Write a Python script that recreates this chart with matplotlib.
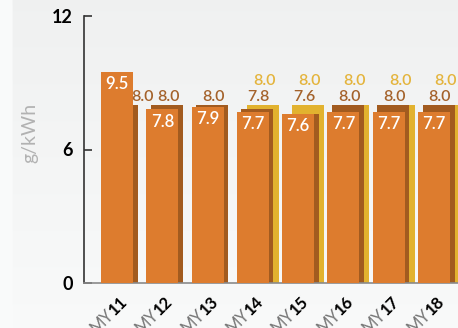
import numpy as np
import matplotlib
matplotlib.use("Agg")
import matplotlib.pyplot as plt

plt.rcParams['font.family'] = ['Lato', 'DejaVu Sans']

# chart data
years = ["11", "12", "13", "14", "15", "16", "17", "18"]
front_vals = [9.5, 7.8, 7.9, 7.7, 7.6, 7.7, 7.7, 7.7]      # orange
middle_vals = [8.0, 8.0, 8.0, 7.8, 7.6, 8.0, 8.0, 8.0]     # brown
back_vals = [None, None, None, 8.0, 8.0, 8.0, 8.0, 8.0]    # yellow

ORANGE = '#dd7c2e'
BROWN = '#a25b1f'
YELLOW = '#e2b22f'
BROWN_TXT = '#a4622b'
YELLOW_TXT = '#e4b43c'

fig = plt.figure(figsize=(4.58, 3.28), dpi=100)

# background: light grey gradient, whiter strip at left
bg = fig.add_axes([0, 0, 1, 1], zorder=-10)
grad = np.linspace(0.94, 0.975, 256)[:, None] * np.ones((256, 256))
grad[:, :7] = 0.98
bg.imshow(np.dstack([grad, grad + 0.004, grad + 0.004]).clip(0, 1), aspect='auto', extent=[0, 1, 0, 1])
bg.axis('off')

ax = fig.add_axes([84 / 458, 45 / 328, 374 / 458, 267 / 328])
ax.patch.set_alpha(0)

x = np.arange(len(years))
w = 0.706
off_mid = 0.1
off_back = 0.22

for i in x:
    if back_vals[i] is not None:
        ax.bar(i + off_back, back_vals[i], w, color=YELLOW, zorder=1)
        ax.annotate(f"{back_vals[i]:.1f}", (i + off_back + 0.03, back_vals[i]), xytext=(0, 12),
                    textcoords='offset points', ha='center', va='bottom',
                    color=YELLOW_TXT, fontsize=11.5, fontweight='semibold')
    ax.bar(i + off_mid, middle_vals[i], w, color=BROWN, zorder=2)
    ax.bar(i, front_vals[i], w, color=ORANGE, zorder=3)
    # brown label sits above the bar, moved aside if the front bar covers it
    if front_vals[i] > middle_vals[i]:
        ax.annotate(f"{middle_vals[i]:.1f}", (i + w / 2, 8.0), xytext=(-1, 0.5),
                    textcoords='offset points', ha='left', va='bottom',
                    color=BROWN_TXT, fontsize=11.5, fontweight='semibold')
    else:
        ax.annotate(f"{middle_vals[i]:.1f}", (i + off_mid + 0.03, 8.0), xytext=(0, 0.5),
                    textcoords='offset points', ha='center', va='bottom',
                    color=BROWN_TXT, fontsize=11.5, fontweight='semibold')
    ax.annotate(f"{front_vals[i]:.1f}", (i, front_vals[i]), xytext=(0, -3),
                textcoords='offset points', ha='center', va='top',
                color='white', fontsize=12, fontweight='semibold', zorder=5)

ax.set_xlim(-0.73, 7.53)
ax.set_ylim(0, 12)
ax.set_yticks([0, 6, 12])
ax.set_yticklabels(["0", "6", "12"], fontsize=13, fontweight='bold')
ax.tick_params(axis='y', direction='in', length=6, width=1.2, color='#333333', pad=8)
ax.set_xticks([])
for s in ['top', 'right']:
    ax.spines[s].set_visible(False)
ax.spines['left'].set_color('#333333')
ax.spines['left'].set_linewidth(1.2)
ax.spines['bottom'].set_color('#8a8a8a')
ax.spines['bottom'].set_linewidth(1.2)

fig.text(30 / 458, 1 - 133 / 328, "g/kWh", rotation=90, ha='center', va='center',
         color='#b2b2b2', fontsize=14)

# two-tone rotated x labels: grey "MY" + bold black year
fig.canvas.draw()
renderer = fig.canvas.get_renderer()
ang = np.deg2rad(45)
fs = 12
yoff = -7.5
for i, yr in zip(x, years):
    ax.annotate(yr, (i + 0.05, 0), xytext=(0, yoff), textcoords='offset points',
                rotation=45, rotation_mode='anchor', ha='right', va='top',
                fontsize=fs, fontweight='bold', color='black', annotation_clip=False)
    tmp = fig.text(0, 0, yr, fontsize=fs, fontweight='bold')
    wpx = tmp.get_window_extent(renderer).width
    tmp.remove()
    wpt = wpx * 72 / fig.dpi
    ax.annotate("MY", (i + 0.05, 0), xytext=(-wpt * np.cos(ang), yoff - wpt * np.sin(ang)),
                textcoords='offset points', rotation=45, rotation_mode='anchor',
                ha='right', va='top', fontsize=fs, color='#777777', annotation_clip=False)

fig.savefig("out.png", dpi=100)
